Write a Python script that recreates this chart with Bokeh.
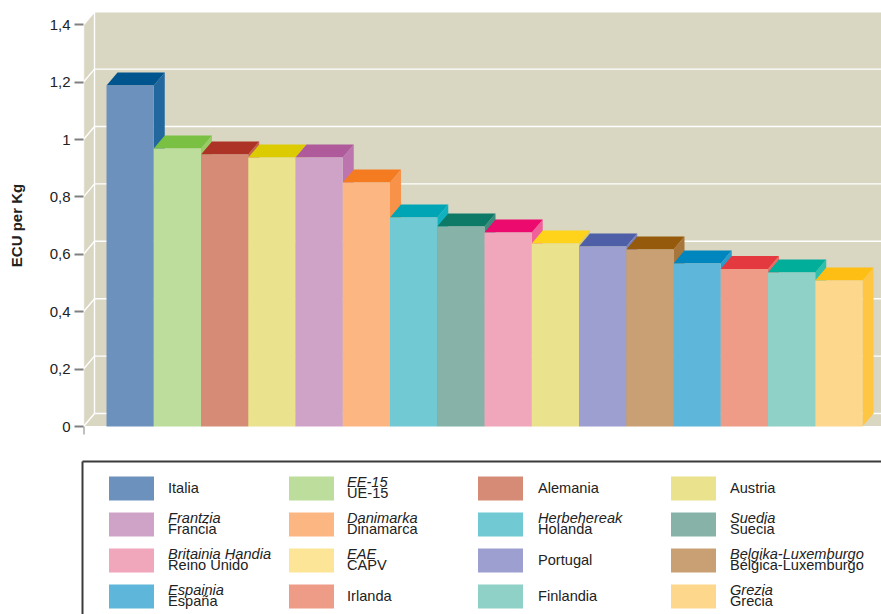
from bokeh.embed import file_html
from bokeh.layouts import column
from bokeh.models import ColumnDataSource, FixedTicker, Range1d
from bokeh.plotting import figure
from bokeh.resources import INLINE

# Bars in drawing order
countries = ["Italia", "UE-15", "Alemania", "Austria", "Francia", "Dinamarca", "Holanda", "Suecia",
             "Reino Unido", "CAPV", "Portugal", "Bélgica-Luxemburgo", "España", "Irlanda", "Finlandia", "Grecia"]
values = [1.188, 0.969, 0.948, 0.937, 0.937, 0.850, 0.728, 0.697,
          0.676, 0.638, 0.627, 0.617, 0.568, 0.549, 0.537, 0.509]
front_colors = ["#6C91BD", "#BCDD9B", "#D58B76", "#EAE28C", "#CFA3C8", "#FBB681", "#70C9D3", "#86B2A7",
                "#F0A6BB", "#EAE28C", "#9C9FCF", "#C9A073", "#5EB7DA", "#EE9B88", "#8FD1C6", "#FDD78C"]
top_colors = ["#00558F", "#7AC143", "#AE3327", "#DCCB00", "#AE5A9B", "#F57B20", "#00A5B5", "#0D7A68",
              "#EC0A6E", "#FFD31A", "#4E5FA8", "#955A0C", "#0086BE", "#E43A3F", "#00AE9A", "#FFBE14"]
side_colors = ["#22689F", "#99CC66", "#C4604F", "#E3D43E", "#BC75AF", "#F99249", "#10B2C1", "#3E8A7C",
               "#F0609A", "#D8C96A", "#7B80BB", "#A8763A", "#2A9CCB", "#EA6A65", "#2FBFAD", "#FFC644"]

y_ticks = [0, 0.2, 0.4, 0.6, 0.8, 1, 1.2, 1.4]
y_tick_labels = ["0", "0,2", "0,4", "0,6", "0,8", "1", "1,2", "1,4"]
y_title = "ECU per Kg"

# Legend: (italic Basque name, Spanish name, colour) by row, left to right
legend_rows = [
    [("", "Italia", "#6C91BD"), ("EE-15", "UE-15", "#BCDD9B"),
     ("", "Alemania", "#D58B76"), ("", "Austria", "#EAE28C")],
    [("Frantzia", "Francia", "#CFA3C8"), ("Danimarka", "Dinamarca", "#FBB681"),
     ("Herbehereak", "Holanda", "#70C9D3"), ("Suedia", "Suecia", "#86B2A7")],
    [("Britainia Handia", "Reino Unido", "#F0A6BB"), ("EAE", "CAPV", "#FDE597"),
     ("", "Portugal", "#9C9FCF"), ("Belgika-Luxemburgo", "Bélgica-Luxemburgo", "#C9A073")],
    [("Espainia", "España", "#5EB7DA"), ("", "Irlanda", "#EE9B88"),
     ("", "Finlandia", "#8FD1C6"), ("Grezia", "Grecia", "#FDD78C")],
]

WALL = "#D9D6C2"
INK = "#222222"
FONT = "Liberation Sans"

# Scale: pixels per bar slot and per unit of value, plus the oblique depth offset
PX_X, PX_Y = 47.25, 287.0
DEPTH_X, DEPTH_Y = 11 / PX_X, 13 / PX_Y
W, H_PLOT, H_LEG = 881, 450, 164
FRAME_LEFT, BAR_START, BASE_PX = 83, 106, 426

x_start = (FRAME_LEFT - BAR_START) / PX_X
x_end = (W - BAR_START) / PX_X
wall_x = x_start
back_x = wall_x + DEPTH_X

p = figure(width=W, height=H_PLOT, output_backend="svg", toolbar_location=None,
           frame_width=W - FRAME_LEFT, frame_height=H_PLOT,
           x_range=Range1d(x_start, x_end),
           y_range=Range1d(-(H_PLOT - BASE_PX) / PX_Y, BASE_PX / PX_Y),
           min_border_left=FRAME_LEFT, min_border_right=0, min_border_top=0, min_border_bottom=0,
           outline_line_color=None, background_fill_color="white", border_fill_color="white")
p.xaxis.visible = False
p.grid.visible = False

yax = p.yaxis[0]
yax.ticker = FixedTicker(ticks=y_ticks)
yax.major_label_overrides = dict(zip(y_ticks, y_tick_labels))
yax.axis_line_color = None
yax.major_tick_line_color = "#808080"
yax.major_tick_line_width = 2
yax.major_tick_in = 0
yax.major_tick_out = 9
yax.minor_tick_line_color = None
yax.major_label_standoff = 4
yax.major_label_text_font = FONT
yax.major_label_text_font_size = "15px"
yax.major_label_text_color = INK
yax.axis_label = y_title
yax.axis_label_text_font = FONT
yax.axis_label_text_font_size = "15px"
yax.axis_label_text_font_style = "bold"
yax.axis_label_text_color = INK
yax.axis_label_standoff = 22

# Oblique room: side wall, floor and back plane
top_tick = y_ticks[-1]
p.patch([wall_x, back_x, back_x, wall_x], [top_tick, top_tick + DEPTH_Y, DEPTH_Y, 0], color=WALL, line_width=0)
p.patch([wall_x, back_x, x_end, x_end], [0, DEPTH_Y, DEPTH_Y, 0], color=WALL, line_width=0)
p.quad(left=back_x, right=x_end, bottom=DEPTH_Y, top=top_tick + DEPTH_Y, color=WALL, line_width=0)

# Gridlines run along the back plane and fold down the side wall
p.segment(x0=[back_x] * len(y_ticks), x1=[x_end] * len(y_ticks),
          y0=[t + DEPTH_Y for t in y_ticks], y1=[t + DEPTH_Y for t in y_ticks],
          line_color="white", line_width=1.4)
p.segment(x0=[wall_x] * len(y_ticks), x1=[back_x] * len(y_ticks),
          y0=y_ticks, y1=[t + DEPTH_Y for t in y_ticks],
          line_color="white", line_width=1.4)
p.segment(x0=[back_x, wall_x], x1=[back_x, wall_x], y0=[DEPTH_Y, 0], y1=[top_tick + DEPTH_Y, top_tick],
          line_color="white", line_width=1.4)
p.segment(x0=[wall_x], x1=[x_end], y0=[0], y1=[0], line_color="white", line_width=1)

# Small drop tick under the zero mark
p.segment(x0=[wall_x], x1=[wall_x], y0=[0], y1=[-8 / PX_Y], line_color="#808080", line_width=2)

# Extruded bars, painted left to right so each one overlaps its neighbour's side
for i, (v, fc, tc, sc) in enumerate(zip(values, front_colors, top_colors, side_colors)):
    l, r = i, i + 1
    p.patch([r, r + DEPTH_X, r + DEPTH_X, r], [0, DEPTH_Y, v + DEPTH_Y, v], color=sc, line_width=0)
    p.patch([l, l + DEPTH_X, r + DEPTH_X, r], [v, v + DEPTH_Y, v + DEPTH_Y, v], color=tc, line_width=0)
    p.quad(left=l, right=r, bottom=0, top=v, color=fc, line_width=0)

# Legend panel, addressed in page pixels
leg = figure(width=W, height=H_LEG, output_backend="svg", toolbar_location=None,
             frame_width=W, frame_height=H_LEG,
             x_range=Range1d(0, W), y_range=Range1d(450 + H_LEG, 450),
             min_border=0, outline_line_color=None, border_fill_color="white")
leg.axis.visible = False
leg.grid.visible = False

BOX_X, BOX_Y = 82, 461
leg.segment(x0=[BOX_X, BOX_X], x1=[W, BOX_X], y0=[BOX_Y, BOX_Y], y1=[BOX_Y, 450 + H_LEG],
            line_color="#3A3A3A", line_width=2)

SW_X = [108.5, 288.5, 477.5, 670.5]
TXT_X = [167.5, 346.5, 537.5, 729.5]
ROW_Y = [476, 512, 548, 584]
SW_W, SW_H = 45, 24

sw = dict(l=[], r=[], t=[], b=[], c=[])
single = dict(x=[], y=[], s=[])
upper = dict(x=[], y=[], s=[])
lower = dict(x=[], y=[], s=[])
for ry, row in zip(ROW_Y, legend_rows):
    for sx, tx, (eu, es, col) in zip(SW_X, TXT_X, row):
        sw["l"].append(sx); sw["r"].append(sx + SW_W)
        sw["t"].append(ry); sw["b"].append(ry + SW_H); sw["c"].append(col)
        mid = ry + SW_H / 2 - 0.3
        if eu:
            upper["x"].append(tx); upper["y"].append(mid - 6); upper["s"].append(eu)
            lower["x"].append(tx); lower["y"].append(mid + 5); lower["s"].append(es)
        else:
            single["x"].append(tx); single["y"].append(mid); single["s"].append(es)

leg.quad(left="l", right="r", top="t", bottom="b", fill_color="c", line_width=0, line_color=None,
         source=ColumnDataSource(sw))
for data, style in ((single, "normal"), (lower, "normal"), (upper, "italic")):
    leg.text(x="x", y="y", text="s", source=ColumnDataSource(data), text_baseline="middle",
             text_font_size="14.6px", text_font_style=style, text_color=INK,
             text_font={"value": FONT})

# The legend sits in its own inner column so its frame keeps the full page width
page = column(p, column(leg, spacing=0), spacing=0)
open("out.html", "w").write(file_html(page, INLINE))
